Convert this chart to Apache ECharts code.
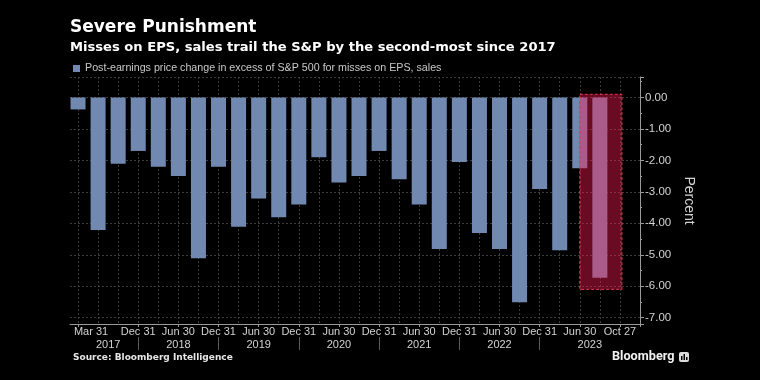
<!DOCTYPE html>
<html><head><meta charset="utf-8">
<script src="https://cdn.jsdelivr.net/npm/echarts@6/dist/echarts.min.js"></script>
<style>html,body{margin:0;padding:0;background:#000}#c{width:760px;height:380px}</style>
</head><body><div id="c"></div>
<script>
// ---- data ----
const quarters = ['2017-03-31','2017-06-30','2017-09-30','2017-12-31','2018-03-31','2018-06-30','2018-09-30','2018-12-31','2019-03-31','2019-06-30','2019-09-30','2019-12-31','2020-03-31','2020-06-30','2020-09-30','2020-12-31','2021-03-31','2021-06-30','2021-09-30','2021-12-31','2022-03-31','2022-06-30','2022-09-30','2022-12-31','2023-03-31','2023-06-30','2023-09-30'];
const values = [-0.38,-4.21,-2.11,-1.70,-2.20,-2.50,-5.11,-2.20,-4.11,-3.21,-3.81,-3.40,-1.90,-2.70,-2.50,-1.70,-2.60,-3.40,-4.82,-2.05,-4.31,-4.82,-6.51,-2.91,-4.86,-2.25,-5.73];
const tickLabels = ['Mar 31','','','Dec 31','','Jun 30','','Dec 31','','Jun 30','','Dec 31','','Jun 30','','Dec 31','','Jun 30','','Dec 31','','Jun 30','','Dec 31','','Jun 30','','Oct 27'];
const yearLabels = ['2017','2018','2019','2020','2021','2022','2023'];
const seriesName = 'Post-earnings price change in excess of S&P 500 for misses on EPS, sales';
const highlightRange = {fromSlot: 25, toSlot: 27.1, top: 0.1, bottom: -6.1};
const yRange = {min: -7.2, max: 0.65};

// ---- axis helpers ----
const SLOTS = 28;          // axis runs to the slot after "Oct 27"
const SUB = 10, LEAD = 4;  // sub-steps per slot, sub-steps before first bar
const BASE = 1;            // bar axis is 1-based so that its zero lies outside the plot
const subCats = Array.from({length: LEAD + SLOTS * SUB + 1}, (_, i) => String(i));
const slotOf = i => (i - LEAD) / SUB;
const isSlot = i => (i - LEAD) % SUB === 0;

const decIdx = quarters.map((q, i) => q.endsWith('12-31') ? i : -1).filter(i => i >= 0);
const bounds = [0, ...decIdx, SLOTS];
const yearCenters = {};
yearLabels.forEach((y, k) => { yearCenters[LEAD + Math.round((bounds[k] + bounds[k + 1]) / 2 * SUB)] = y; });
const sepIdx = new Set(decIdx.map(d => LEAD + d * SUB));

const labelColor = '#d2d2d2';
const gridColor = '#3c3c3c';
const font = 'Liberation Sans';

const chart = echarts.init(document.getElementById('c'), null, {renderer: 'canvas'});
chart.setOption({
  backgroundColor: '#000',
  animation: false,
  title: [
    {text: 'Severe Punishment', left: 70, top: 19, padding: 0,
      textStyle: {color: '#fff', fontSize: 17, fontWeight: 'bold', fontFamily: 'DejaVu Sans'}},
    {text: 'Misses on EPS, sales trail the S&P by the second-most since 2017', left: 70, top: 41, padding: 0,
      textStyle: {color: '#fff', fontSize: 13.1, fontWeight: 'bold', fontFamily: 'DejaVu Sans'}},
    {text: 'Source: Bloomberg Intelligence', left: 73, top: 353, padding: 0,
      textStyle: {color: '#e6e6e6', fontSize: 9, fontWeight: 'bold', fontFamily: 'DejaVu Sans'}},
    {text: 'Bloomberg', left: 612, top: 350, padding: 0,
      textStyle: {color: '#f0f0f0', fontSize: 12.7, fontWeight: 'bold', fontFamily: 'Roboto'}}
  ],
  graphic: [
    {type: 'group', left: 679, top: 352, children: [
      {type: 'rect', shape: {x: 0, y: 0, width: 10, height: 10, r: 2}, style: {fill: '#dcdcdc'}},
      {type: 'rect', shape: {x: 2, y: 4, width: 1.5, height: 4}, style: {fill: '#000'}},
      {type: 'rect', shape: {x: 4.5, y: 2, width: 1.5, height: 6}, style: {fill: '#000'}},
      {type: 'rect', shape: {x: 7, y: 5, width: 1.5, height: 3}, style: {fill: '#000'}}
    ]}
  ],
  legend: {
    data: [seriesName], left: 73, top: 63, padding: 0, icon: 'rect', itemWidth: 7, itemHeight: 7, itemGap: 4,
    textStyle: {color: '#c8c8c8', fontSize: 10.7, fontFamily: font}
  },
  grid: {left: 70, right: 120, top: 77, bottom: 56, containLabel: false, outerBoundsMode: 'none'},
  xAxis: [
    {type: 'value', show: false, min: BASE - LEAD / SUB, max: BASE + SLOTS, gridIndex: 0,
      axisLine: {onZero: false}},
    {type: 'category', data: subCats, boundaryGap: false, position: 'bottom', gridIndex: 0,
      axisLine: {show: true, onZero: false, lineStyle: {color: '#9a9a9a', width: 1}},
      axisTick: {show: true, length: 3, lineStyle: {color: '#9a9a9a'},
        interval: i => isSlot(i) && (tickLabels[slotOf(i)] || slotOf(i) === SLOTS)},
      axisLabel: {show: true, margin: 2, color: labelColor, fontSize: 11, fontFamily: font, hideOverlap: false,
        interval: i => isSlot(i) && !!tickLabels[slotOf(i)],
        formatter: (v, i) => {
          const t = tickLabels[slotOf(Number(v))] || '';
          return Number(v) === LEAD ? '{first|' + t + '}' : t;
        },
        rich: {first: {padding: [0, 0, 0, 26], color: labelColor, fontSize: 11, fontFamily: font}}},
      splitLine: {show: true, lineStyle: {color: gridColor, type: [2, 2]},
        interval: i => isSlot(i) && slotOf(i) < SLOTS}
    },
    {type: 'category', data: subCats, boundaryGap: false, position: 'bottom', offset: 13, gridIndex: 0,
      axisLine: {show: false, onZero: false},
      axisTick: {show: true, length: 13, lineStyle: {color: '#5a5a5a'}, interval: i => sepIdx.has(i)},
      axisLabel: {show: true, margin: 2, color: labelColor, fontSize: 11, fontFamily: font, hideOverlap: false,
        interval: i => yearCenters[i] !== undefined,
        formatter: (v) => yearCenters[Number(v)] || ''},
      splitLine: {show: false}
    }
  ],
  yAxis: {
    type: 'value', position: 'right', min: yRange.min, max: yRange.max, splitNumber: 8,
    axisLine: {show: true, onZero: false, lineStyle: {color: '#9a9a9a'}},
    axisTick: {show: true, length: 4, lineStyle: {color: '#9a9a9a'}},
    minorTick: {show: true, splitNumber: 2, length: 2, lineStyle: {color: '#9a9a9a'}},
    axisLabel: {margin: 5, color: labelColor, fontSize: 11.5, fontFamily: font, showMinLabel: false, showMaxLabel: false,
      formatter: v => Math.abs(v - Math.round(v)) < 1e-6 ? v.toFixed(2) : ''},
    splitLine: {show: true, lineStyle: {color: gridColor, type: [2, 2]}},
    name: 'Percent', nameLocation: 'middle', nameRotate: -90, nameGap: 28,
    nameTextStyle: {color: labelColor, fontSize: 14, fontFamily: font}
  },
  series: [
    {type: 'bar', name: seriesName, xAxisIndex: 0, barWidth: 15,
      itemStyle: {color: '#7189b1'},
      data: values.map((v, i) => [BASE + i, v])},
    {type: 'line', name: 'highlight', xAxisIndex: 0, data: [], z: 10, silent: true,
      markArea: {silent: true, z: 10,
        itemStyle: {color: 'rgba(250,28,83,0.42)', borderColor: '#e8344f', borderWidth: 1, borderType: [3, 2]},
        data: [[{xAxis: BASE + highlightRange.fromSlot, yAxis: highlightRange.top},
                {xAxis: BASE + highlightRange.toSlot, yAxis: highlightRange.bottom}]]}}
  ]
});
</script>
</body></html>
